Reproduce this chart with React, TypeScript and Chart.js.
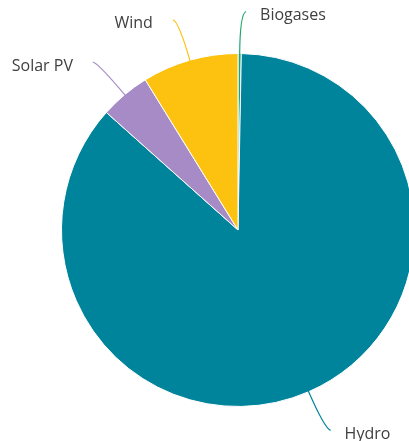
import React, { useEffect, useRef } from "react";
import { Chart, registerables } from "chart.js";

Chart.register(...registerables);

const categories = ["Biogases", "Hydro", "Solar PV", "Wind"];
const shares = [0.3, 86.3, 4.6, 8.8];
const colors = ["#1ea66e", "#00849c", "#a68bc6", "#fdc10f"];

const leaderPlugin = {
  id: "leaders",
  afterDraw(chart: any) {
    const ctx = chart.ctx;
    const meta = chart.getDatasetMeta(0);
    ctx.save();
    ctx.font = "16px 'Open Sans', sans-serif";
    ctx.textBaseline = "middle";
    meta.data.forEach((arc: any, i: number) => {
      const mid = (arc.startAngle + arc.endAngle) / 2;
      const r = arc.outerRadius;
      const cx = arc.x;
      const cy = arc.y;
      const x0 = cx + Math.cos(mid) * (r - 1);
      const y0 = cy + Math.sin(mid) * (r - 1);
      const x1 = cx + Math.cos(mid) * (r + 40);
      const y1 = cy + Math.sin(mid) * (r + 40);
      const dir = Math.cos(mid) >= 0.001 ? 1 : -1;
      const up = Math.sin(mid) < 0 ? -1 : 1;
      const x2 = x1 + dir * 6;
      const y2 = y1 + up * 2;
      ctx.strokeStyle = colors[i];
      ctx.lineWidth = 1.2;
      ctx.beginPath();
      ctx.moveTo(x0, y0);
      ctx.quadraticCurveTo(x1, y1, x2, y2);
      ctx.stroke();
      ctx.fillStyle = "#404040";
      ctx.textAlign = dir > 0 ? "left" : "right";
      ctx.fillText(categories[i], x2 + dir * (dir > 0 ? 14 : 20), y2 + 4);
    });
    ctx.restore();
  },
};

export default function App() {
  const ref = useRef<HTMLCanvasElement>(null);
  useEffect(() => {
    if (!ref.current) return;
    const chart = new Chart(ref.current, {
      type: "pie",
      data: {
        labels: categories,
        datasets: [
          {
            data: shares,
            backgroundColor: colors,
            borderColor: "#ffffff",
            borderWidth: 1,
          },
        ],
      },
      options: {
        responsive: false,
        animation: false,
        layout: { padding: { left: 61, top: 53, right: 15, bottom: 34 } },
        plugins: {
          legend: { display: false },
          tooltip: { enabled: false },
        },
      },
      plugins: [leaderPlugin],
    });
    return () => chart.destroy();
  }, []);
  return (
    <div
      style={{
        position: "fixed",
        left: 0,
        top: 0,
        width: 409,
        height: 441,
        overflow: "hidden",
        background: "#fff",
      }}
    >
      <canvas ref={ref} width={430} height={441} style={{ display: "block" }} />
    </div>
  );
}
